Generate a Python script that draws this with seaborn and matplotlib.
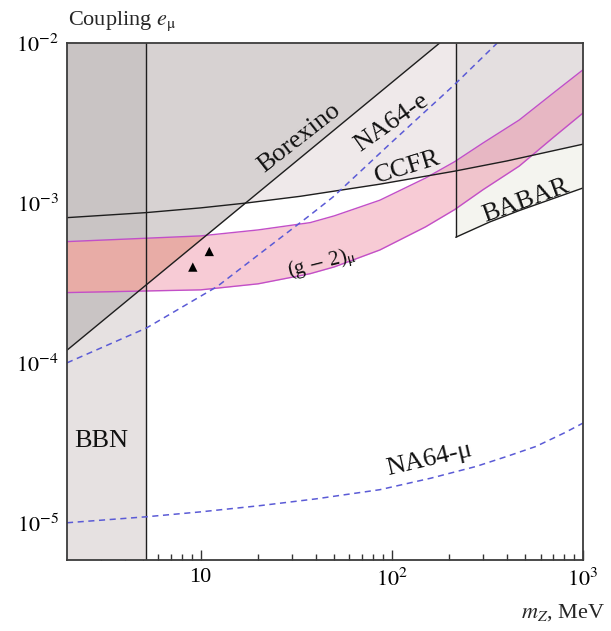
import matplotlib
matplotlib.use('Agg')
import matplotlib.pyplot as plt
import seaborn as sns
from matplotlib.ticker import LogLocator, NullFormatter

# Curves: m_Z in MeV, coupling e_mu
ccfr_x = [2, 5.2, 10, 17.5, 33.2, 86.6, 213, 400, 1000]
ccfr_y = [8.09e-4, 8.7e-4, 9.31e-4, 1.0e-3, 1.10e-3, 1.31e-3, 1.58e-3, 1.83e-3, 2.33e-3]

borexino_x = [2, 178]
borexino_y = [1.2e-4, 1e-2]

babar_x = [216, 325, 464, 706, 1000]
babar_y = [6.1e-4, 7.6e-4, 8.96e-4, 1.07e-3, 1.24e-3]

bbn_mass = 5.2
mumu_mass = 216

g2_x = [2, 10, 20, 37.4, 50, 86.6, 150, 213, 300, 464, 700, 1000]
g2_hi = [5.73e-4, 6.22e-4, 6.78e-4, 7.53e-4, 8.3e-4, 1.04e-3, 1.43e-3, 1.81e-3,
         2.37e-3, 3.30e-3, 4.87e-3, 6.8e-3]
g2_lo = [2.75e-4, 2.86e-4, 3.12e-4, 3.61e-4, 3.98e-4, 5.08e-4, 7.08e-4, 9.08e-4,
         1.21e-3, 1.70e-3, 2.57e-3, 3.65e-3]

na64e_x = [2, 5.2, 12.2, 37.4, 49.3, 100, 213, 356]
na64e_y = [1.0e-4, 1.65e-4, 3.0e-4, 8.4e-4, 1.09e-3, 2.4e-3, 5.5e-3, 1e-2]

na64mu_x = [2, 5.2, 10, 20.5, 40, 86.6, 160, 276, 400, 567, 800, 1000]
na64mu_y = [1.0e-5, 1.09e-5, 1.17e-5, 1.28e-5, 1.41e-5, 1.61e-5, 1.90e-5, 2.25e-5,
            2.6e-5, 3.0e-5, 3.65e-5, 4.2e-5]

tri_x = [9.1, 11.1]
tri_y = [3.97e-4, 4.97e-4]

x_lim = (2, 1000)
y_lim = (5.85e-6, 1e-2)
y_top = y_lim[1]

sns.set_theme(style = 'ticks')
plt.rcParams['font.family'] = ['Liberation Serif', 'DejaVu Serif']
plt.rcParams['mathtext.fontset'] = 'stix'

fig = plt.figure(figsize = (6.11, 6.31), dpi = 100)
ax = fig.add_axes([67 / 611, 71 / 631, 516 / 611, 517 / 631])
ax.set_xscale('log')
ax.set_yscale('log')

# Excluded regions
ccfr = ax.fill_between(ccfr_x, ccfr_y, y_top, color = '#efe9ea', lw = 0)
babar = ax.fill_between(babar_x, babar_y, y_top, color = '#f4f4ef', lw = 0)
both = ax.fill_between(ccfr_x, ccfr_y, y_top, color = '#e4dfe0', lw = 0)
both.set_clip_path(babar.get_paths()[0], ax.transData)

ax.axvspan(1, bbn_mass, color = '#e6e1e1', lw = 0)
bor = ax.fill_between(borexino_x, borexino_y, y_top, color = '#d7d2d2', lw = 0)
bbn_bor = ax.axvspan(1, bbn_mass, color = '#c9c4c4', lw = 0)
bbn_bor.set_clip_path(bor.get_paths()[0], ax.transData)

# (g-2) band
ax.fill_between(g2_x, g2_lo, g2_hi, color = (236 / 255, 125 / 255, 152 / 255), alpha = 0.4, lw = 0)
salmon = ax.fill_between(g2_x, g2_lo, g2_hi, color = '#e8aca6', lw = 0)
salmon.set_clip_path(bor.get_paths()[0], ax.transData)

for edge in [g2_hi, g2_lo]:
    sns.lineplot(x = g2_x, y = edge, ax = ax, color = '#c24fc8', lw = 1,
                 estimator = None, sort = False)

# Boundaries
for bx, by in [(ccfr_x, ccfr_y), (borexino_x, borexino_y), (babar_x, babar_y)]:
    sns.lineplot(x = bx, y = by, ax = ax, color = '#1e1e1e', lw = 1,
                 estimator = None, sort = False)

ax.axvline(bbn_mass, color = '#1e1e1e', lw = 1)
ax.vlines(mumu_mass, babar_y[0], y_top, color = '#1e1e1e', lw = 1)

# NA64 projections
for nx, ny in [(na64e_x, na64e_y), (na64mu_x, na64mu_y)]:
    sns.lineplot(x = nx, y = ny, ax = ax, color = '#5b5bd6', lw = 1.1,
                 linestyle = (0, (4, 3)), estimator = None, sort = False)

sns.scatterplot(x = tri_x, y = tri_y, ax = ax, marker = '^', color = 'black',
                s = 45, edgecolor = 'none')

ax.set_xlim(*x_lim)
ax.set_ylim(*y_lim)

# Labels
lab = dict(transform = ax.transAxes, fontsize = 19, ha = 'center', va = 'center',
           rotation_mode = 'anchor', color = '#111111')
ax.text(0.45, 0.816, 'Borexino', rotation = 38, **lab)
ax.text(0.630, 0.845, 'NA64-e', rotation = 35, **lab)
ax.text(0.659, 0.760, 'CCFR', rotation = 17, **lab)
ax.text(0.890, 0.694, 'BABAR', rotation = 20, **lab)
ax.text(0.703, 0.195, 'NA64-μ', rotation = 13, **lab)
ax.text(0.494, 0.572, r'(g$\,-\,$2)$_{\mathrm{\mu}}$', rotation = 14,
        **{**lab, 'fontsize': 15})
ax.text(0.0136, 0.23, 'BBN', transform = ax.transAxes, fontsize = 19,
        ha = 'left', va = 'center', color = '#111111')

fig.text(68 / 611, 1 - 25 / 631, r'Coupling $e_{\mathrm{\mu}}$', fontsize = 16,
         ha = 'left', va = 'baseline')
fig.text(605 / 611, 1 - 618 / 631, r'$m_Z$, MeV', fontsize = 16,
         ha = 'right', va = 'baseline')

# Axes and ticks
ax.set_xticks([10, 100, 1000], labels = ['10', r'$10^2$', r'$10^3$'])
ax.set_yticks([1e-5, 1e-4, 1e-3, 1e-2],
              labels = [r'$10^{-5}$', r'$10^{-4}$', r'$10^{-3}$', r'$10^{-2}$'])
ax.xaxis.set_minor_locator(LogLocator(subs = range(2, 10)))
ax.yaxis.set_minor_locator(LogLocator(subs = range(2, 10)))
ax.xaxis.set_minor_formatter(NullFormatter())
ax.yaxis.set_minor_formatter(NullFormatter())
ax.tick_params(which = 'both', direction = 'in', top = False, right = False,
               color = '#333333', width = 1, labelcolor = 'black', labelsize = 16)
ax.tick_params(which = 'major', length = 7)
ax.tick_params(which = 'minor', length = 4.5)
ax.tick_params(axis = 'y', pad = 6)
ax.tick_params(axis = 'x', pad = 6)
ax.set_xlabel('')
ax.set_ylabel('')
for s in ax.spines.values():
    s.set_color('#3c3c3c')
    s.set_linewidth(1.3)
    s.set_visible(True)

fig.savefig('out.png', dpi = 100)
plt.close()
